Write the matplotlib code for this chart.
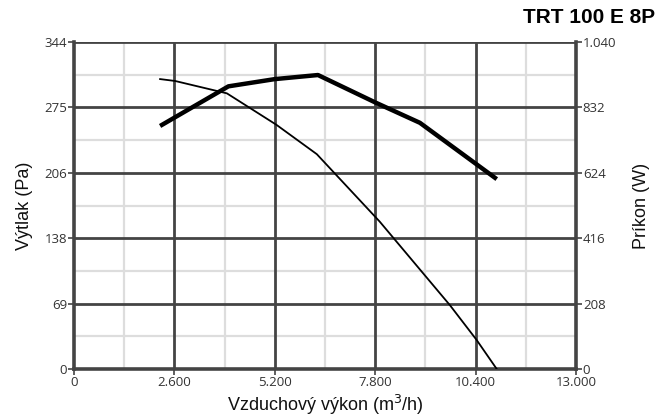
import matplotlib
matplotlib.use("Agg")
import matplotlib.pyplot as plt
import numpy as np

# airflow (m3/h) vs static pressure (Pa) - thin curve, left axis
flow_p = [2230, 2620, 3960, 5240, 6290, 7920, 9740, 10430, 10950]
pressure = [305, 303, 290, 257, 226, 155, 67, 30.5, 0]

# airflow (m3/h) vs power input (W) - thick curve, right axis
flow_w = [2230, 4000, 5200, 6320, 7800, 8960, 10950]
power = [773, 899, 922, 935, 848, 783, 604]

x_ticks = [0, 2600, 5200, 7800, 10400, 13000]
x_labels = ["0", "2.600", "5.200", "7.800", "10.400", "13.000"]
yl_ticks = [0, 68.8, 137.6, 206.4, 275.2, 344]
yl_labels = ["0", "69", "138", "206", "275", "344"]
yr_ticks = [0, 208, 416, 624, 832, 1040]
yr_labels = ["0", "208", "416", "624", "832", "1.040"]

major_c = "#444444"
minor_c = "#dddddd"

fig = plt.figure(figsize=(6.63, 4.18), dpi=100)
ax = fig.add_axes([0.1116, 0.1172, 0.757, 0.7823])
ax2 = ax.twinx()

ax.set_xlim(0, 13000)
ax.set_ylim(0, 344)
ax2.set_ylim(0, 1040)

# grid: minor lines at half steps, major lines at ticks
for xv in np.arange(1300, 13000, 2600):
    ax.axvline(xv, color=minor_c, lw=1.6, zorder=1)
for yv in np.arange(34.4, 344, 68.8):
    ax.axhline(yv, color=minor_c, lw=1.6, zorder=1)
for xv in x_ticks[1:-1]:
    ax.axvline(xv, color=major_c, lw=2, zorder=2)
for yv in yl_ticks[1:]:
    ax.axhline(yv, color=major_c, lw=2, zorder=2)

ax.plot(flow_p, pressure, color="black", lw=1.3, zorder=5)
ax2.plot(flow_w, power, color="black", lw=3.2, zorder=5, solid_capstyle="butt")

for a in (ax, ax2):
    for s in a.spines.values():
        s.set_visible(False)
ax.spines["left"].set_visible(True)
ax.spines["bottom"].set_visible(True)
ax2.spines["right"].set_visible(True)
for s in (ax.spines["left"], ax.spines["bottom"], ax2.spines["right"]):
    s.set_color(major_c)
    s.set_linewidth(2.6)

tick_font = dict(fontsize=9.5, fontfamily="Open Sans", color="#333333")
ax.set_xticks(x_ticks)
ax.set_xticklabels(x_labels, **tick_font)
ax.set_yticks(yl_ticks)
ax.set_yticklabels(yl_labels, **tick_font)
ax2.set_yticks(yr_ticks)
ax2.set_yticklabels(yr_labels, **tick_font)
ax.tick_params(axis="both", length=4, width=1.2, color=major_c, pad=1)
ax2.tick_params(axis="y", length=4, width=1.2, color=major_c, pad=1)

lab_font = dict(fontsize=13, fontfamily="Liberation Sans", color="#111111")
ax.set_ylabel("Výtlak (Pa)", labelpad=8, **lab_font)
ax2.set_ylabel("Príkon (W)", labelpad=12, **lab_font)
ax.set_xlabel("Vzduchový výkon (m$^3$/h)", labelpad=3, **lab_font)

fig.text(0.988, 0.935, "TRT 100 E 8P", ha="right", va="bottom",
         fontsize=15, fontweight="bold", fontfamily="Liberation Sans")

ax.set_zorder(ax2.get_zorder() - 1)
ax2.patch.set_visible(False)

fig.savefig("out.png", dpi=100)
